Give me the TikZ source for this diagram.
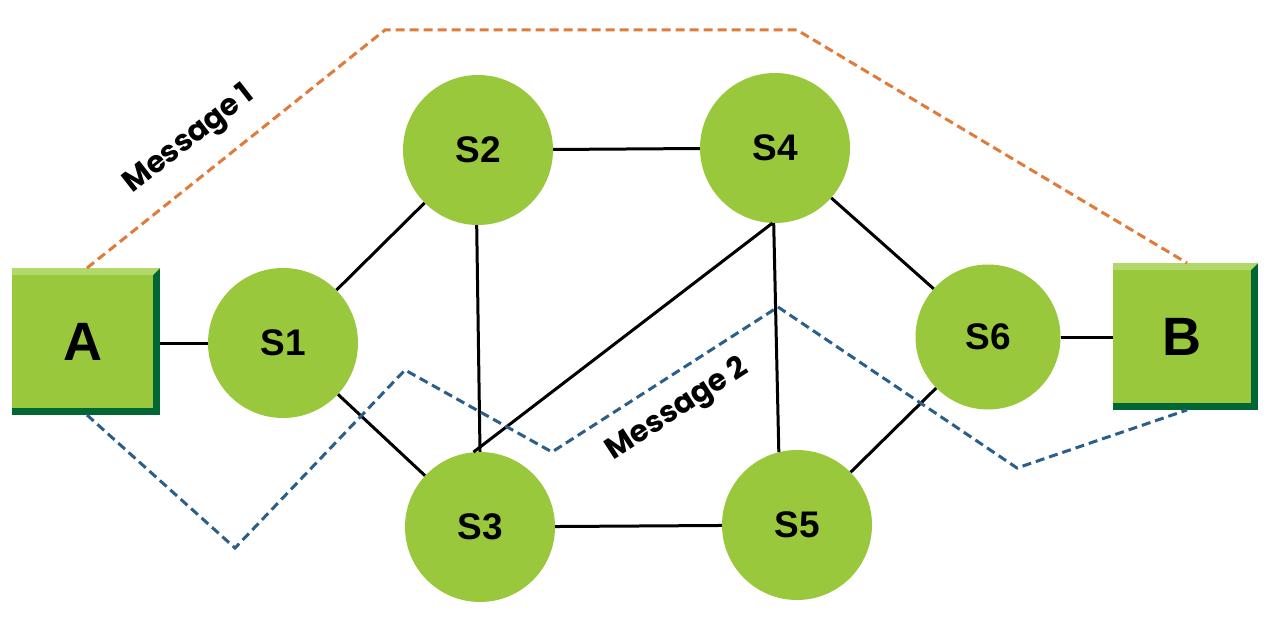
\documentclass[tikz,border=0pt]{standalone}
\usepackage{fontspec}
\setmainfont{Liberation Sans}
\newfontfamily\popp{Poppins}
\begin{document}
\begin{tikzpicture}[x=1pt,y=-1pt,
  sw/.style={circle,fill=sgreen,minimum size=150pt,inner sep=0pt,font=\bfseries\fontsize{37}{37}\selectfont},
  box/.style={fill=sgreen,inner sep=0pt,font=\bfseries\fontsize{54}{54}\selectfont},
  link/.style={line width=3pt,black},
  m1/.style={dash pattern=on 9pt off 5pt,line width=3pt,orangeL},
  m2/.style={dash pattern=on 9pt off 5pt,line width=3pt,blueL},
  lab/.style={font=\popp\bfseries\fontsize{30}{30}\selectfont}]
\definecolor{sgreen}{RGB}{154,200,60}
\definecolor{dkgreen}{RGB}{0,102,51}
\definecolor{ltgreen}{RGB}{176,216,106}
\definecolor{orangeL}{RGB}{224,123,57}
\definecolor{blueL}{RGB}{43,95,138}
\useasboundingbox (0,0) rectangle (1273,628);
\fill[white] (0,0) rectangle (1273,628);
% boxes with bevel
\fill[dkgreen] (12,268) rectangle (160,415);
\fill[ltgreen] (12,268) -- (160,268) -- (153,275) -- (12,275) -- cycle;
\node[box,minimum width=141pt,minimum height=133pt,anchor=north west] (A) at (12,275) {A};
\fill[dkgreen] (1113,263) rectangle (1258,410);
\fill[ltgreen] (1113,263) -- (1258,263) -- (1251,270) -- (1113,270) -- cycle;
\node[box,minimum width=138pt,minimum height=133pt,anchor=north west] (B) at (1113,270) {B};
\node[sw] (S1) at (283,343) {S1};
\node[sw] (S2) at (478,150) {S2};
\node[sw] (S4) at (775,148) {S4};
\node[sw,minimum size=145pt] (S6) at (988,337) {S6};
\node[sw] (S3) at (480,527) {S3};
\node[sw] (S5) at (797,525) {S5};
% links
\draw[link] (160,343) -- (S1);
\draw[link] (S1) -- (S2);
\draw[link] (S1) -- (S3);
\draw[link] (S2) -- (S4);
\draw[link] (S2.-91) -- (S3.90);
\draw[link] (S4.-92) -- (S3.95);
\draw[link] (S4.-91) -- (S5.104);
\draw[link] (S4) -- (S6);
\draw[link] (S3) -- (S5);
\draw[link] (S5) -- (S6);
\draw[link] (S6) -- (1113,337);
% messages
\coordinate (a1) at (87,268); \coordinate (b1) at (1187,263);
\coordinate (a2) at (87,415); \coordinate (b2) at (1187,410);
\draw[m1] (a1) -- (385,30) -- (797,30) -- (b1);
\draw[m2] (a2) -- (235,548) -- (405,370) -- (552,452) -- (778,307) -- (1017,468) -- (b2);
\node[lab,rotate=38] (L1) at (190,140) {Message 1};
\node[lab,rotate=33] (L2) at (678,410) {Message 2};
\end{tikzpicture}
\end{document}
